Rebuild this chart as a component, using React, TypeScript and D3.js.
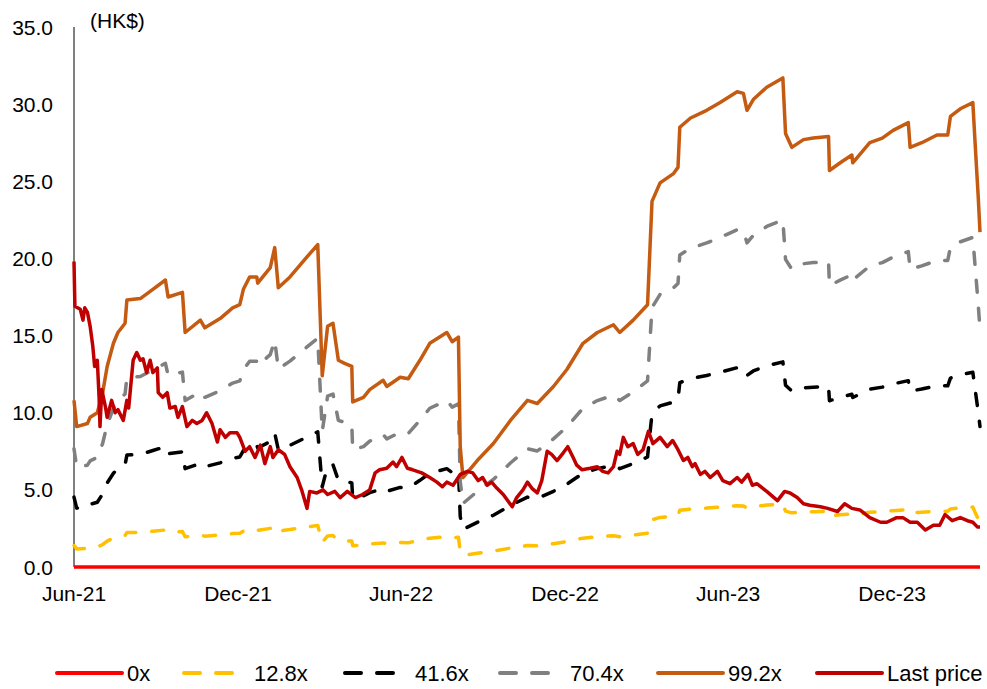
import * as d3 from 'd3';
import { useEffect, useRef } from 'react';

/* ================= DATA ================= */

// P/E band multiples (x trailing EPS)
const multiples = [0, 12.8, 41.6, 70.4, 99.2];
const seriesNames = ['0x', '12.8x', '41.6x', '70.4x', '99.2x', 'Last price'];
const xTickDates = ['2021-06-01', '2021-12-01', '2022-06-01', '2022-12-01', '2023-06-01', '2023-12-01'];
const yTicks = [0, 5, 10, 15, 20, 25, 30, 35];

// 99.2x band (HK$); the other bands are the same EPS at their own multiple
const topBand: [string, number][] = [
  ['2021-06-01', 10.8], ['2021-06-04', 9.1], ['2021-06-16', 9.3], ['2021-06-19', 9.7],
  ['2021-06-27', 10.0], ['2021-07-03', 11.3], ['2021-07-08', 13.0], ['2021-07-15', 14.5],
  ['2021-07-20', 15.2], ['2021-07-28', 15.8], ['2021-07-30', 17.3], ['2021-08-14', 17.4],
  ['2021-08-28', 18.0], ['2021-09-11', 18.6], ['2021-09-14', 17.5], ['2021-09-30', 17.8],
  ['2021-10-03', 15.2], ['2021-10-20', 16.0], ['2021-10-25', 15.5], ['2021-11-11', 16.1],
  ['2021-11-25', 16.8], ['2021-12-03', 17.0], ['2021-12-07', 18.0], ['2021-12-14', 18.8],
  ['2021-12-22', 18.8], ['2021-12-23', 18.4], ['2022-01-06', 19.4], ['2022-01-11', 20.7],
  ['2022-01-15', 18.1], ['2022-01-28', 18.8], ['2022-02-16', 20.1], ['2022-02-28', 20.9],
  ['2022-03-05', 12.4], ['2022-03-11', 15.6], ['2022-03-17', 15.8], ['2022-03-23', 13.4],
  ['2022-03-30', 13.2], ['2022-04-07', 13.0], ['2022-04-08', 10.7], ['2022-04-20', 11.0],
  ['2022-04-27', 11.5], ['2022-05-12', 12.1], ['2022-05-16', 11.7], ['2022-05-31', 12.3],
  ['2022-06-09', 12.2], ['2022-06-22', 13.4], ['2022-07-03', 14.5], ['2022-07-22', 15.2],
  ['2022-07-28', 14.6], ['2022-08-04', 14.9], ['2022-08-06', 7.8], ['2022-08-09', 5.8],
  ['2022-08-25', 6.9], ['2022-09-12', 8.0], ['2022-10-01', 9.5], ['2022-10-20', 10.8],
  ['2022-10-31', 10.6], ['2022-11-18', 11.7], ['2022-12-03', 12.8], ['2022-12-21', 14.5],
  ['2023-01-06', 15.2], ['2023-01-24', 15.7], ['2023-01-31', 15.2], ['2023-02-15', 16.0],
  ['2023-03-03', 17.0], ['2023-03-08', 23.7], ['2023-03-17', 24.9], ['2023-04-01', 25.5],
  ['2023-04-06', 25.9], ['2023-04-08', 28.5], ['2023-04-20', 29.1], ['2023-05-08', 29.6],
  ['2023-05-23', 30.1], ['2023-06-11', 30.8], ['2023-06-18', 30.7], ['2023-06-22', 29.6],
  ['2023-06-29', 30.3], ['2023-07-14', 31.1], ['2023-08-01', 31.7], ['2023-08-04', 28.1],
  ['2023-08-11', 27.2], ['2023-08-24', 27.7], ['2023-09-04', 27.8], ['2023-09-21', 27.9],
  ['2023-09-22', 25.7], ['2023-10-04', 26.2], ['2023-10-17', 26.7], ['2023-10-18', 26.2],
  ['2023-11-06', 27.5], ['2023-11-20', 27.8], ['2023-12-02', 28.3], ['2023-12-19', 28.8],
  ['2023-12-21', 27.2], ['2024-01-03', 27.5], ['2024-01-20', 28.0], ['2024-02-01', 28.0],
  ['2024-02-04', 29.2], ['2024-02-15', 29.7], ['2024-02-29', 30.1], ['2024-03-03', 27.0],
  ['2024-03-06', 24.0], ['2024-03-08', 21.7],
];

const lastPrice: [string, number][] = [
  ['2021-06-01', 19.8], ['2021-06-02', 16.9], ['2021-06-08', 16.7], ['2021-06-11', 16.0],
  ['2021-06-13', 16.8], ['2021-06-16', 16.5], ['2021-06-19', 15.6], ['2021-06-22', 14.3],
  ['2021-06-24', 13.0], ['2021-06-27', 13.4], ['2021-06-29', 11.0], ['2021-06-30', 9.1],
  ['2021-07-02', 11.5], ['2021-07-06', 10.4], ['2021-07-08', 9.7], ['2021-07-13', 10.8],
  ['2021-07-17', 10.0], ['2021-07-20', 10.2], ['2021-07-26', 9.5], ['2021-07-30', 10.8],
  ['2021-08-01', 10.3], ['2021-08-06', 13.4], ['2021-08-10', 13.9], ['2021-08-14', 13.4],
  ['2021-08-17', 13.5], ['2021-08-21', 12.6], ['2021-08-25', 13.4], ['2021-08-28', 12.6],
  ['2021-09-02', 12.9], ['2021-09-03', 11.3], ['2021-09-08', 11.0], ['2021-09-13', 11.3],
  ['2021-09-16', 10.3], ['2021-09-22', 10.4], ['2021-09-25', 9.7], ['2021-09-30', 10.4],
  ['2021-10-05', 9.1], ['2021-10-11', 9.5], ['2021-10-16', 9.3], ['2021-10-22', 9.5],
  ['2021-10-27', 10.0], ['2021-11-02', 9.3], ['2021-11-08', 8.1], ['2021-11-11', 8.9],
  ['2021-11-17', 8.4], ['2021-11-22', 8.7], ['2021-11-30', 8.7], ['2021-12-03', 8.4],
  ['2021-12-09', 7.5], ['2021-12-14', 7.8], ['2021-12-20', 7.1], ['2021-12-26', 7.9],
  ['2021-12-31', 6.7], ['2022-01-06', 7.8], ['2022-01-09', 7.1], ['2022-01-15', 7.6],
  ['2022-01-22', 7.3], ['2022-01-28', 6.5], ['2022-02-05', 5.8], ['2022-02-10', 5.0],
  ['2022-02-16', 3.8], ['2022-02-19', 4.9], ['2022-02-27', 4.8], ['2022-03-06', 5.0],
  ['2022-03-11', 4.7], ['2022-03-19', 4.9], ['2022-03-25', 4.5], ['2022-04-02', 4.9],
  ['2022-04-11', 4.5], ['2022-04-19', 4.7], ['2022-04-27', 5.0], ['2022-05-03', 6.1],
  ['2022-05-08', 6.3], ['2022-05-16', 6.4], ['2022-05-23', 6.8], ['2022-05-27', 6.5],
  ['2022-06-02', 7.1], ['2022-06-08', 6.4], ['2022-06-14', 6.3], ['2022-06-24', 6.1],
  ['2022-07-03', 5.8], ['2022-07-11', 5.5], ['2022-07-17', 5.2], ['2022-07-22', 5.5],
  ['2022-07-29', 5.3], ['2022-08-06', 6.0], ['2022-08-14', 6.2], ['2022-08-20', 6.1],
  ['2022-08-26', 5.6], ['2022-08-31', 5.8], ['2022-09-05', 5.3], ['2022-09-10', 5.5],
  ['2022-09-16', 5.1], ['2022-09-23', 4.7], ['2022-10-03', 3.9], ['2022-10-08', 4.5],
  ['2022-10-15', 5.0], ['2022-10-20', 5.5], ['2022-10-25', 5.1], ['2022-10-31', 4.8],
  ['2022-11-05', 5.6], ['2022-11-11', 7.5], ['2022-11-16', 7.3], ['2022-11-22', 6.9],
  ['2022-11-29', 7.4], ['2022-12-04', 7.8], ['2022-12-10', 7.1], ['2022-12-14', 6.6],
  ['2022-12-20', 6.3], ['2022-12-29', 6.4], ['2023-01-06', 6.5], ['2023-01-12', 6.2],
  ['2023-01-18', 6.1], ['2023-01-24', 6.5], ['2023-01-28', 7.5], ['2023-01-31', 7.3],
  ['2023-02-04', 8.4], ['2023-02-09', 7.8], ['2023-02-15', 8.0], ['2023-02-20', 7.3],
  ['2023-02-26', 7.6], ['2023-03-04', 8.8], ['2023-03-09', 8.0], ['2023-03-17', 8.4],
  ['2023-03-25', 7.8], ['2023-03-31', 8.2], ['2023-04-06', 7.6], ['2023-04-12', 6.9],
  ['2023-04-17', 7.1], ['2023-04-22', 6.5], ['2023-04-25', 6.7], ['2023-05-01', 6.0],
  ['2023-05-06', 6.2], ['2023-05-12', 5.8], ['2023-05-20', 6.2], ['2023-05-26', 5.6],
  ['2023-06-03', 5.4], ['2023-06-11', 5.8], ['2023-06-16', 5.5], ['2023-06-23', 6.0],
  ['2023-06-28', 5.3], ['2023-07-03', 5.4], ['2023-07-14', 4.9], ['2023-07-26', 4.3],
  ['2023-08-03', 4.9], ['2023-08-09', 4.8], ['2023-08-17', 4.5], ['2023-08-24', 4.1],
  ['2023-08-31', 4.0], ['2023-09-12', 3.9], ['2023-09-20', 3.8], ['2023-10-01', 3.6],
  ['2023-10-09', 4.1], ['2023-10-17', 3.8], ['2023-10-26', 3.7], ['2023-11-06', 3.2],
  ['2023-11-18', 2.9], ['2023-11-25', 2.9], ['2023-12-06', 3.2], ['2023-12-13', 3.2],
  ['2023-12-21', 2.9], ['2023-12-29', 2.9], ['2024-01-07', 2.4], ['2024-01-16', 2.7],
  ['2024-01-23', 2.7], ['2024-01-29', 3.4], ['2024-02-06', 3.0], ['2024-02-15', 3.2],
  ['2024-02-23', 3.0], ['2024-02-29', 2.9], ['2024-03-05', 2.6], ['2024-03-08', 2.6],
];

/* ================= STYLES ================= */

const seriesStyles = [
  { color: '#FF0000', dash: null },
  { color: '#FFC000', dash: '12 16' },
  { color: '#000000', dash: '12 16' },
  { color: '#808080', dash: '12 16' },
  { color: '#C55A11', dash: null },
  { color: '#C00000', dash: null },
];
const legendX = [57, 184, 345, 500, 658, 817];

const FONT = '"Liberation Sans", Arial, sans-serif';

export default function App() {
  const ref = useRef<SVGSVGElement | null>(null);

  useEffect(() => {
    if (!ref.current) return;

    const width = 987;
    const height = 689;

    const svg = d3.select(ref.current).attr('width', width).attr('height', height);
    svg.selectAll('*').remove();

    const parse = d3.timeParse('%Y-%m-%d');
    const eps = topBand.map(([d, v]) => ({ date: parse(d) as Date, eps: v / 99.2 }));
    const price = lastPrice.map(([d, v]) => ({ date: parse(d) as Date, value: v }));

    /* ================= SCALES ================= */

    const x = d3
      .scaleTime()
      .domain([parse('2021-06-01') as Date, parse('2024-03-08') as Date])
      .range([74, 980]);

    const y = d3.scaleLinear().domain([0, 35]).range([567, 27]);

    /* ================= AXES ================= */

    svg
      .append('line')
      .attr('x1', 74)
      .attr('x2', 74)
      .attr('y1', y(35))
      .attr('y2', y(0))
      .attr('stroke', '#000')
      .attr('stroke-width', 1);

    svg
      .selectAll('text.ytick')
      .data(yTicks)
      .enter()
      .append('text')
      .attr('class', 'ytick')
      .attr('x', 53)
      .attr('y', (d) => y(d) + 7.5)
      .attr('text-anchor', 'end')
      .attr('font-family', FONT)
      .attr('font-size', 21)
      .attr('fill', '#000')
      .text((d) => d3.format('.1f')(d));

    svg
      .selectAll('text.xtick')
      .data(xTickDates.map((d) => parse(d) as Date))
      .enter()
      .append('text')
      .attr('class', 'xtick')
      .attr('x', (d) => x(d))
      .attr('y', 601)
      .attr('text-anchor', 'middle')
      .attr('font-family', FONT)
      .attr('font-size', 21)
      .attr('fill', '#000')
      .text((d) => d3.timeFormat('%b-%y')(d));

    svg
      .append('text')
      .attr('x', 90)
      .attr('y', 28)
      .attr('font-family', FONT)
      .attr('font-size', 21)
      .attr('fill', '#000')
      .text('(HK$)');

    /* ================= BANDS ================= */

    multiples.forEach((m, i) => {
      const line = d3
        .line<{ date: Date; eps: number }>()
        .x((d) => x(d.date))
        .y((d) => y(d.eps * m));
      const st = seriesStyles[i];
      svg
        .append('path')
        .datum(eps)
        .attr('d', line)
        .attr('fill', 'none')
        .attr('stroke', st.color)
        .attr('stroke-width', 3.5)
        .attr('stroke-linejoin', 'round')
        .attr('stroke-linecap', st.dash ? 'round' : 'butt')
        .attr('stroke-dasharray', st.dash);
    });

    /* ================= LAST PRICE ================= */

    svg
      .append('path')
      .datum(price)
      .attr(
        'd',
        d3
          .line<{ date: Date; value: number }>()
          .x((d) => x(d.date))
          .y((d) => y(d.value))
      )
      .attr('fill', 'none')
      .attr('stroke', seriesStyles[5].color)
      .attr('stroke-width', 3.5)
      .attr('stroke-linejoin', 'round');

    /* ================= LEGEND ================= */

    const legend = svg
      .selectAll('g.legend')
      .data(seriesNames)
      .enter()
      .append('g')
      .attr('class', 'legend')
      .attr('transform', (_, i) => `translate(${legendX[i]}, 673)`);

    legend
      .append('line')
      .attr('x1', 0)
      .attr('x2', (_, i) => (seriesStyles[i].dash ? 48 : 65))
      .attr('y1', 0)
      .attr('y2', 0)
      .attr('stroke', (_, i) => seriesStyles[i].color)
      .attr('stroke-width', 4)
      .attr('stroke-linecap', 'round')
      .attr('stroke-dasharray', (_, i) => (seriesStyles[i].dash ? '16 16' : null));

    legend
      .append('text')
      .attr('x', 70)
      .attr('y', 7.5)
      .attr('font-family', FONT)
      .attr('font-size', 22)
      .attr('fill', '#000')
      .text((d) => d);
  }, []);

  return (
    <svg
      ref={ref}
      style={{ position: 'absolute', left: 0, top: 0, background: '#fff' }}
    />
  );
}
